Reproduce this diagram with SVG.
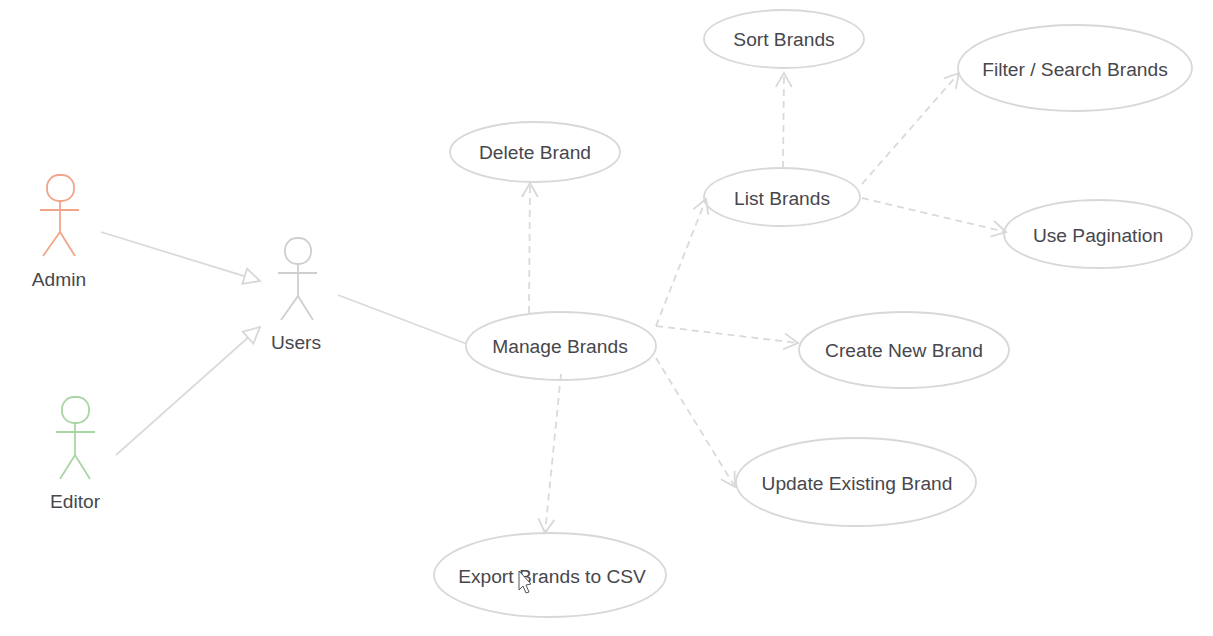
<svg xmlns="http://www.w3.org/2000/svg" width="1213" height="636" viewBox="0 0 1213 636">
<defs>
<style>
.uc{fill:#fff;stroke:#d8d8d8;stroke-width:1.8}
text{font-family:"Liberation Sans",Arial,sans-serif;font-size:19.2px;fill:#47474d;text-anchor:middle}
.actor{fill:none;stroke-width:1.8}
.solid{fill:none;stroke:#dadada;stroke-width:1.8}
.dash{fill:none;stroke:#dadada;stroke-width:1.8;stroke-dasharray:7 5;marker-end:url(#open)}
.inh{fill:none;stroke:#dadada;stroke-width:1.8;marker-end:url(#tri)}
</style>
<marker id="open" markerUnits="userSpaceOnUse" markerWidth="20" markerHeight="20" refX="16" refY="10" orient="auto"><path d="M2 2L16 10L2 18" fill="none" stroke="#d8d8d8" stroke-width="1.8"/></marker>
<marker id="tri" markerUnits="userSpaceOnUse" markerWidth="22" markerHeight="22" refX="18" refY="11" orient="auto"><path d="M2 3L18 11L2 19Z" fill="#fff" stroke="#d8d8d8" stroke-width="1.8"/></marker>
</defs>
<rect width="1213" height="636" fill="#fff"/>
<g id="admin" stroke="#f2a58a"><rect class="actor" x="47" y="175" width="27" height="26" rx="12"/><path class="actor" d="M60 201V232M40 210H79M60 232L43 256M60 232L75 256"/><text x="59" y="286" stroke="none">Admin</text></g>
<g id="users" stroke="#cfcfcf"><rect class="actor" x="285" y="238" width="26" height="26" rx="12"/><path class="actor" d="M298 264V296M278 273H317M298 296L281 320M298 296L313 320"/><text x="296" y="349" stroke="none">Users</text></g>
<g id="editor" stroke="#a9d6a4"><rect class="actor" x="62" y="397" width="27" height="26" rx="12"/><path class="actor" d="M75 423V455M56 432H95M75 455L60 479M75 455L90 479"/><text x="75" y="508" stroke="none">Editor</text></g>
<g id="delete-brand"><ellipse class="uc" cx="535" cy="152" rx="85" ry="30"/><text x="535" y="159">Delete Brand</text></g>
<g id="manage-brands"><ellipse class="uc" cx="561" cy="346" rx="95" ry="34"/><text x="560" y="353">Manage Brands</text></g>
<g id="export-brands"><ellipse class="uc" cx="550" cy="575" rx="116" ry="42"/><text x="552" y="583">Export Brands to CSV</text></g>
<g id="sort-brands"><ellipse class="uc" cx="784" cy="39" rx="80" ry="29"/><text x="784" y="46">Sort Brands</text></g>
<g id="list-brands"><ellipse class="uc" cx="782" cy="197" rx="78" ry="29"/><text x="782" y="205">List Brands</text></g>
<g id="filter-brands"><ellipse class="uc" cx="1075" cy="68" rx="117" ry="43"/><text x="1075" y="76">Filter / Search Brands</text></g>
<g id="use-pagination"><ellipse class="uc" cx="1098" cy="234" rx="94" ry="34"/><text x="1098" y="242">Use Pagination</text></g>
<g id="create-brand"><ellipse class="uc" cx="904" cy="350" rx="105" ry="38"/><text x="904" y="357">Create New Brand</text></g>
<g id="update-brand"><ellipse class="uc" cx="856" cy="482" rx="120" ry="44"/><text x="857" y="490">Update Existing Brand</text></g>
<g id="connectors">
<path class="inh" d="M101 232L260 281"/>
<path class="inh" d="M116 455L260 327"/>
<path class="solid" d="M338 295L467 344"/>
<path class="dash" d="M529 313L530 183"/>
<path class="dash" d="M561 374L545 533"/>
<path class="dash" d="M656 326L706 199"/>
<path class="dash" d="M656 326L798 343"/>
<path class="dash" d="M656 358L735 487"/>
<path class="dash" d="M783 168L784 73"/>
<path class="dash" d="M862 184L959 73"/>
<path class="dash" d="M862 198L1006 232"/>
</g>
<path id="cursor" d="M519 571V590L523 586L526 593L529 592L526 585L531 584Z" fill="#fff" stroke="#55555a" stroke-width="1"/>
</svg>
